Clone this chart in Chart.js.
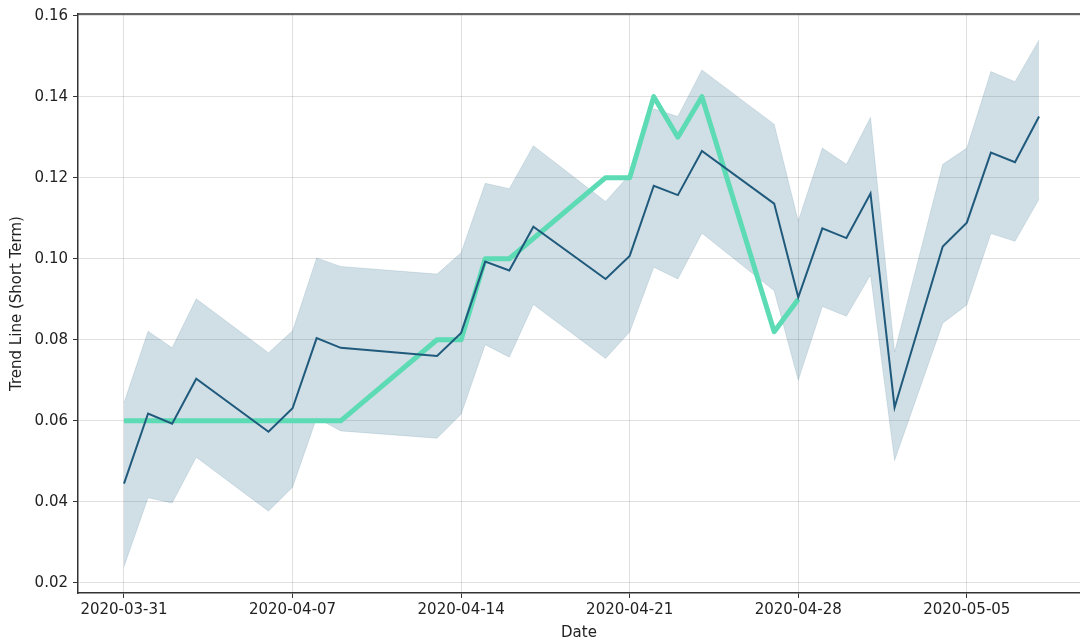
<!DOCTYPE html>
<html>
<head>
<meta charset="utf-8">
<script src="https://cdn.jsdelivr.net/npm/chart.js@4.4.1/dist/chart.umd.min.js"></script>
<style>
html,body{margin:0;padding:0;background:#fff;}
#wrap{width:1080px;height:644px;}
</style>
</head>
<body>
<div id="wrap"><canvas id="c" width="1080" height="644"></canvas></div>
<script>
// Forecast series dates
const dates = ['2020-03-31','2020-04-01','2020-04-02','2020-04-03','2020-04-06','2020-04-07','2020-04-08','2020-04-09','2020-04-13','2020-04-14','2020-04-15','2020-04-16','2020-04-17','2020-04-20','2020-04-21','2020-04-22','2020-04-23','2020-04-24','2020-04-27','2020-04-28','2020-04-29','2020-04-30','2020-05-01','2020-05-02','2020-05-04','2020-05-05','2020-05-06','2020-05-07','2020-05-08'];
const trend = [0.0445,0.0618,0.0593,0.0704,0.0573,0.0631,0.0804,0.0780,0.0760,0.0817,0.0993,0.0971,0.1079,0.0950,0.1007,0.1180,0.1157,0.1266,0.1136,0.0905,0.1075,0.1051,0.1161,0.0633,0.1030,0.1089,0.1262,0.1238,0.1351];
const upper = [0.0645,0.0821,0.0780,0.0901,0.0768,0.0822,0.1002,0.0981,0.0962,0.1015,0.1186,0.1173,0.1279,0.1141,0.1208,0.1370,0.1351,0.1466,0.1332,0.1093,0.1273,0.1233,0.1349,0.0770,0.1233,0.1273,0.1462,0.1437,0.1540];
const lower = [0.0240,0.0410,0.0397,0.0510,0.0377,0.0436,0.0607,0.0575,0.0557,0.0616,0.0788,0.0757,0.0887,0.0754,0.0819,0.0979,0.0950,0.1063,0.0921,0.0700,0.0882,0.0858,0.0960,0.0502,0.0841,0.0886,0.1062,0.1043,0.1147];
// Actual series
const actualDates = ['2020-03-31','2020-04-01','2020-04-02','2020-04-03','2020-04-06','2020-04-07','2020-04-08','2020-04-09','2020-04-13','2020-04-14','2020-04-15','2020-04-16','2020-04-20','2020-04-21','2020-04-22','2020-04-23','2020-04-24','2020-04-27','2020-04-28'];
const actual = [0.06,0.06,0.06,0.06,0.06,0.06,0.06,0.06,0.08,0.08,0.10,0.10,0.12,0.12,0.14,0.13,0.14,0.082,0.09];
// Axis ticks
const xTickDates = ['2020-03-31','2020-04-07','2020-04-14','2020-04-21','2020-04-28','2020-05-05'];
const yTicks = [0.02,0.04,0.06,0.08,0.10,0.12,0.14,0.16];

const ORIGIN = Date.UTC(2020,2,31);
const DAY = 86400000;
function dayOf(s){const p=s.split('-').map(Number);return (Date.UTC(p[0],p[1]-1,p[2])-ORIGIN)/DAY;}
function labelOf(d){const t=new Date(ORIGIN+Math.round(d)*DAY);return t.toISOString().slice(0,10);}
const pts = (ds, vs) => ds.map((d,i)=>({x:dayOf(d), y:vs[i]}));

const FONT = {family:'DejaVu Sans', size:15};
const TXT = '#222';

const frame = {
  id:'frame',
  afterDraw(chart){
    const {ctx, chartArea:a} = chart;
    ctx.save();
    ctx.strokeStyle='#333';
    ctx.lineWidth=1.5;
    ctx.beginPath();
    ctx.moveTo(a.left, a.top);
    ctx.lineTo(a.right, a.top);
    ctx.stroke();
    ctx.restore();
  }
};

new Chart(document.getElementById('c'), {
  type:'line',
  data:{
    datasets:[
      {label:'Trend', data:pts(dates,trend), borderColor:'#1f5a7c', borderWidth:2, pointRadius:0, tension:0, fill:false, order:1},
      {label:'Actual', data:pts(actualDates,actual), borderColor:'#5cdbb4', borderWidth:5, pointRadius:0, tension:0, fill:false, borderJoinStyle:'round', order:2},
      {label:'Upper', data:pts(dates,upper), borderColor:'rgba(22,88,125,0.12)', borderWidth:1, pointRadius:0, tension:0, fill:'+1', backgroundColor:'rgba(22,88,125,0.2)', order:3},
      {label:'Lower', data:pts(dates,lower), borderColor:'rgba(22,88,125,0.12)', borderWidth:1, pointRadius:0, tension:0, fill:false, order:4}
    ]
  },
  options:{
    responsive:false,
    animation:false,
    events:[],
    layout:{padding:{top:12,right:0,bottom:0,left:8}},
    plugins:{legend:{display:false}, tooltip:{enabled:false}},
    scales:{
      x:{
        type:'linear',
        min:-1.91, max:39.7,
        afterBuildTicks(s){ s.ticks = xTickDates.map(d=>({value:dayOf(d)})); },
        afterFit(s){ s.height = 51; },
        ticks:{font:FONT, color:TXT, padding:3, maxRotation:0, autoSkip:false, callback:(v)=>labelOf(v)},
        grid:{color:'rgba(0,0,0,0.12)', lineWidth:1, tickLength:5, tickColor:'#333'},
        border:{display:true, color:'#333', width:1.5},
        title:{display:true, text:'Date', font:FONT, color:TXT, padding:{top:0,bottom:2}}
      },
      y:{
        type:'linear',
        min:0.0175, max:0.1604,
        afterBuildTicks(s){ s.ticks = yTicks.map(v=>({value:v})); },
        afterFit(s){ s.width = 70; },
        ticks:{font:FONT, color:TXT, padding:5, callback:(v)=>Number(v).toFixed(2)},
        grid:{color:'rgba(0,0,0,0.12)', lineWidth:1, tickLength:5, tickColor:'#333'},
        border:{display:true, color:'#333', width:1.5},
        title:{display:true, text:'Trend Line (Short Term)', font:FONT, color:TXT, padding:{top:0,bottom:4}}
      }
    }
  },
  plugins:[frame]
});
</script>
</body>
</html>
